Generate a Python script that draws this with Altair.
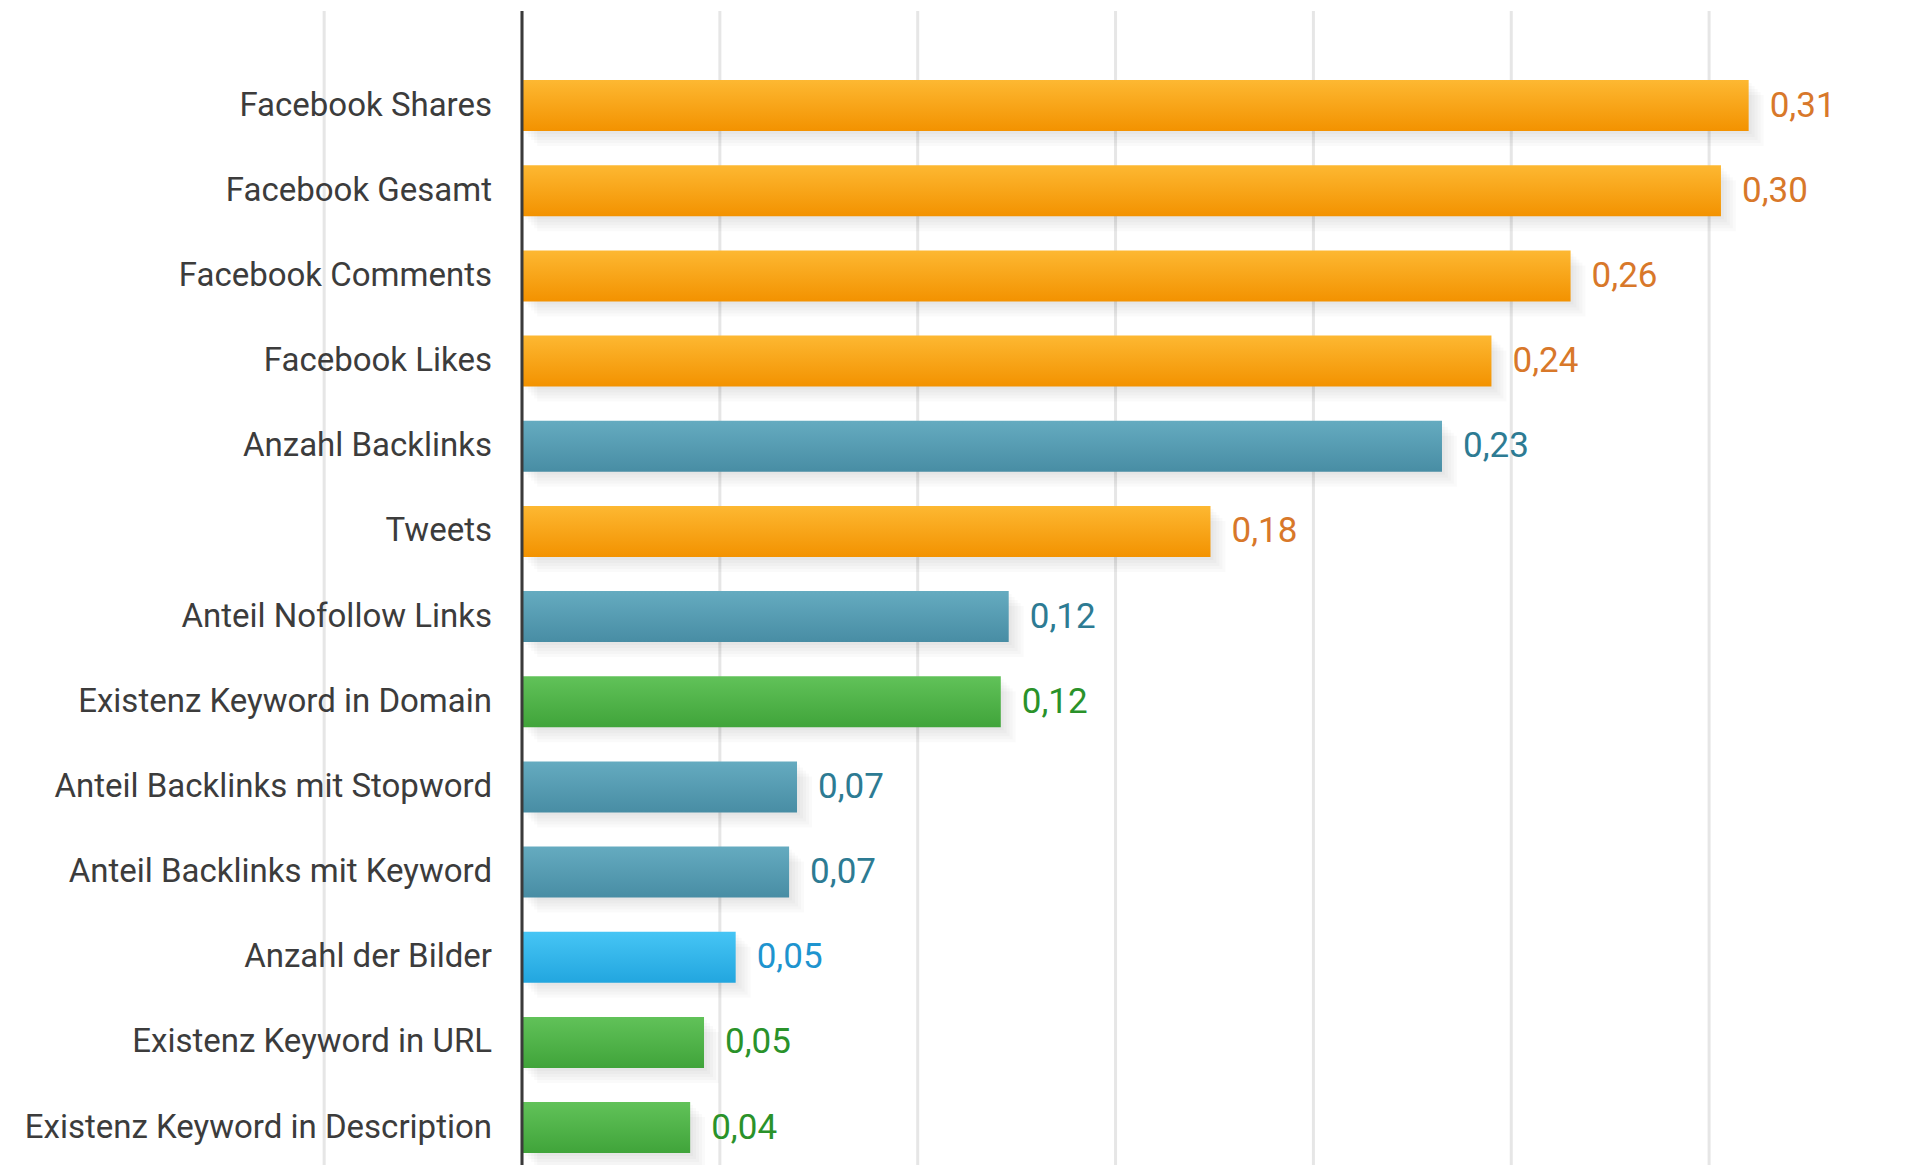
import altair as alt
import pandas as pd

categories = [
    "Facebook Shares", "Facebook Gesamt", "Facebook Comments", "Facebook Likes",
    "Anzahl Backlinks", "Tweets", "Anteil Nofollow Links", "Existenz Keyword in Domain",
    "Anteil Backlinks mit Stopword", "Anteil Backlinks mit Keyword", "Anzahl der Bilder",
    "Existenz Keyword in URL", "Existenz Keyword in Description",
]
values = [0.310, 0.303, 0.265, 0.245, 0.2325, 0.174, 0.123, 0.121, 0.0695, 0.0675, 0.054, 0.046, 0.0425]
value_labels = ["0,31", "0,30", "0,26", "0,24", "0,23", "0,18", "0,12", "0,12", "0,07", "0,07", "0,05", "0,05", "0,04"]
groups = ["Social", "Social", "Social", "Social", "Links", "Social", "Links", "Keyword",
          "Links", "Links", "Content", "Keyword", "Keyword"]
grid_ticks = [-0.05, 0.0, 0.05, 0.10, 0.15, 0.20, 0.25, 0.30, 0.35]

group_names = ["Social", "Links", "Keyword", "Content"]
grad_top = ["#FDB832", "#65ABC0", "#61C259", "#46C5F5"]
grad_bottom = ["#F39200", "#488DA4", "#40A43A", "#22A6DF"]
text_colors = ["#D8782A", "#2D7B93", "#2A922A", "#1E94CF"]

df = pd.DataFrame({"cat": categories, "value": values, "label": value_labels, "group": groups})
df["zero"] = 0.0
grid_df = pd.DataFrame({"t": grid_ticks})

FONT = "Roboto"

xscale = alt.Scale(domain=[-0.1299, 0.3485], nice=False, zero=False)
yscale = alt.Scale(paddingInner=0.401, paddingOuter=0.493, align=0.858, round=False)

X = alt.X("value:Q", scale=xscale, axis=None)
Y = alt.Y("cat:N", sort=categories, scale=yscale, axis=None)

base = alt.Chart(df)

grid = alt.Chart(grid_df).mark_rule(color="#E6E6E6", strokeWidth=3).encode(
    x=alt.X("t:Q", scale=xscale, axis=None),
    y=alt.value(3),
    y2=alt.value(1157),
)

shadows = []
for k in range(1, 6):
    shadows.append(
        base.mark_bar(color="#000000", opacity=0.02, yOffset=3 * k, xOffset=3 * k).encode(x=X, y=Y)
    )

bars = []
for g, t, b in zip(group_names, grad_top, grad_bottom):
    grad = alt.Gradient(
        gradient="linear",
        stops=[alt.GradientStop(color=t, offset=0), alt.GradientStop(color=b, offset=1)],
        x1=0, x2=0, y1=0, y2=1,
    )
    bars.append(
        base.transform_filter(alt.datum.group == g).mark_bar(color=grad).encode(x=X, y=Y)
    )

axis_line = alt.Chart(grid_df).transform_filter(alt.datum.t == 0).mark_rule(
    color="#3A3A3A", strokeWidth=3
).encode(
    x=alt.X("t:Q", scale=xscale, axis=None),
    y=alt.value(3),
    y2=alt.value(1157),
)

cat_labels = base.mark_text(
    align="right", baseline="middle", dx=-30, font=FONT, fontSize=33, color="#3C3C3C"
).encode(x=alt.X("zero:Q", scale=xscale, axis=None), y=Y, text="cat:N")

val_labels = base.mark_text(
    align="left", baseline="middle", dx=21, font=FONT, fontSize=35
).encode(
    x=X, y=Y, text="label:N",
    color=alt.Color("group:N", scale=alt.Scale(domain=group_names, range=text_colors), legend=None),
)

chart = alt.layer(grid, *shadows, *bars, axis_line, cat_labels, val_labels).properties(
    width=1893, height=1157, padding=0, autosize=alt.AutoSizeParams(type="none"),
    background="white",
).configure_view(stroke=None)

chart.save("out.html", embed_options={"renderer": "svg", "actions": False})
